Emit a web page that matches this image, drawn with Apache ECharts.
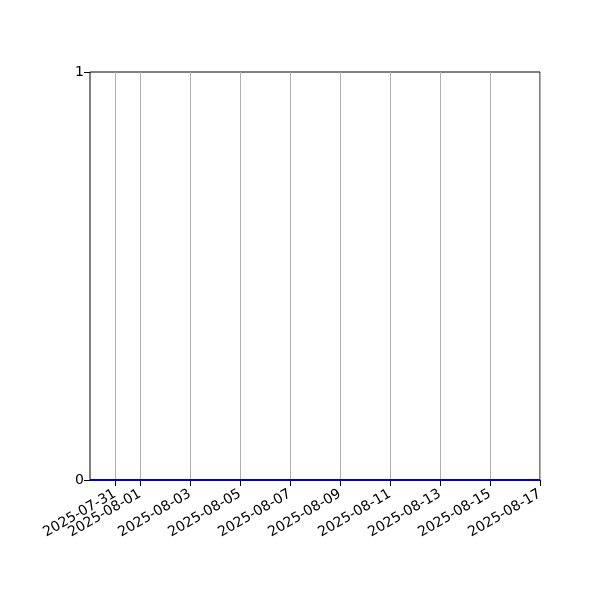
<!doctype html>
<html>
<head>
<meta charset="utf-8">
<title></title>
<script src="https://cdn.jsdelivr.net/npm/echarts@6/dist/echarts.min.js"></script>
<style>
  html, body { margin: 0; padding: 0; background: #fff; }
  #container { width: 600px; height: 600px; }
</style>
</head>
<body>
<div id="container"></div>
<script type="text/javascript">
// daily series, every value sits on zero
var dates = ['2025-07-30', '2025-07-31', '2025-08-01', '2025-08-02', '2025-08-03', '2025-08-04',
  '2025-08-05', '2025-08-06', '2025-08-07', '2025-08-08', '2025-08-09', '2025-08-10',
  '2025-08-11', '2025-08-12', '2025-08-13', '2025-08-14', '2025-08-15', '2025-08-16', '2025-08-17'];
var values = [0, 0, 0, 0, 0, 0, 0, 0, 0, 0, 0, 0, 0, 0, 0, 0, 0, 0, 0];
var xTicks = ['2025-07-31', '2025-08-01', '2025-08-03', '2025-08-05', '2025-08-07',
  '2025-08-09', '2025-08-11', '2025-08-13', '2025-08-15', '2025-08-17'];
var yTicks = [0, 1];

function isTick(index, value) {
  return xTicks.indexOf(value) >= 0;
}

var myChart = echarts.init(document.getElementById('container'));
var option = {
  animation: false,
  textStyle: { fontFamily: 'DejaVu Sans' },
  grid: {
    left: 90, right: 60, top: 72, bottom: 120,
    show: true, borderColor: '#000', borderWidth: 1, backgroundColor: 'transparent'
  },
  xAxis: {
    type: 'category',
    data: dates,
    boundaryGap: false,
    axisLine: { show: true, onZero: false, lineStyle: { color: '#000', width: 1 } },
    axisTick: { show: true, length: 6, inside: false, interval: isTick, lineStyle: { color: '#000', width: 1 } },
    axisLabel: {
      interval: 0,
      rotate: 30,
      color: '#000',
      fontSize: 14,
      margin: 13,
      formatter: function (v) { return xTicks.indexOf(v) >= 0 ? v : ''; }
    },
    splitLine: { show: true, interval: isTick, lineStyle: { color: '#b0b0b0', width: 1 } }
  },
  yAxis: {
    type: 'value',
    min: yTicks[0],
    max: yTicks[yTicks.length - 1],
    interval: 1,
    axisLine: { show: false },
    axisTick: { show: true, length: 6, inside: false, lineStyle: { color: '#000' } },
    axisLabel: { color: '#000', fontSize: 14, margin: 6 },
    splitLine: { show: false }
  },
  series: [{
    type: 'line',
    data: values,
    symbol: 'none',
    lineStyle: { color: '#0000cd', width: 2 },
    z: 5
  }]
};
myChart.setOption(option, true);
</script>
</body>
</html>
